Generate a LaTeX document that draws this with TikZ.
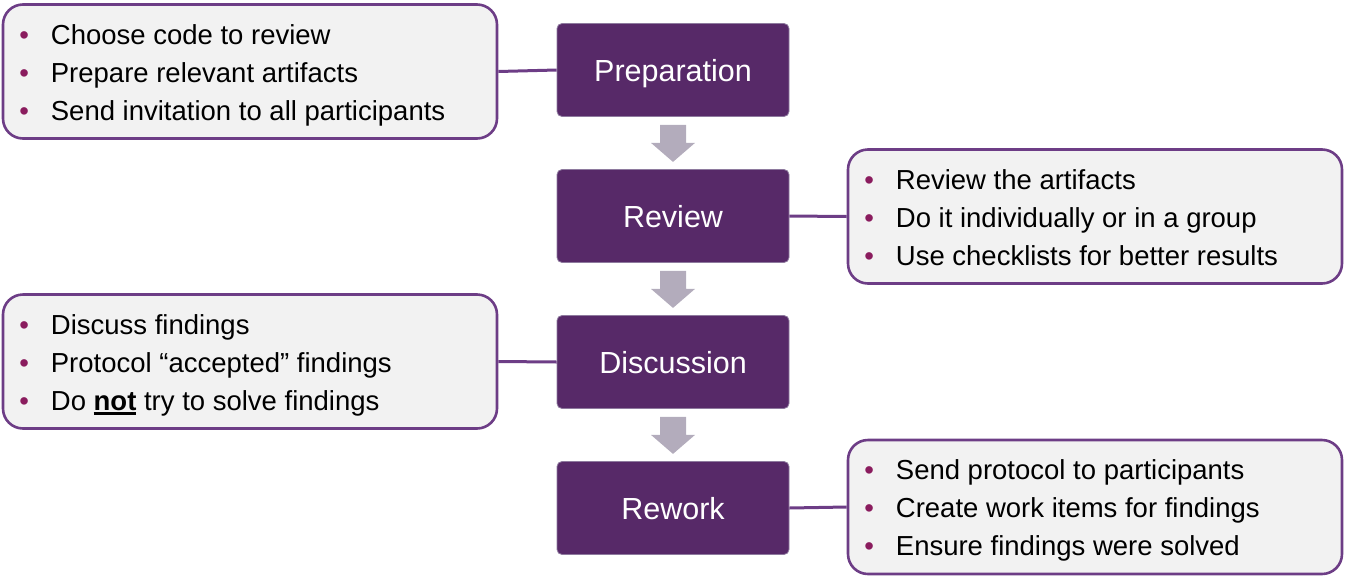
\documentclass[tikz,border=0pt]{standalone}
\usepackage{fontspec}
\setmainfont{Liberation Sans}
\usetikzlibrary{calc}
\definecolor{stepfill}{HTML}{572968}
\definecolor{stepline}{HTML}{8E7A9E}
\definecolor{callline}{HTML}{6D3D86}
\definecolor{callfill}{HTML}{F2F2F2}
\definecolor{bul}{HTML}{8A1C5E}
\definecolor{arrgray}{HTML}{B3ACBC}
\newcommand\itm[1]{\strut\makebox[31.5pt][l]{\textcolor{bul}{•}}#1}
\newcommand\ulnot[1]{\setbox0\hbox{#1}\rlap{\rule[-4.5pt]{\wd0}{2.4pt}}\box0\relax}
\newcommand\blockarr[1]{\fill[arrgray] ([yshift=-8pt]#1.south) ++(-13,0) -- ++(26,0) -- ++(0,18) -- ++(9,0) -- ++(-22,19) -- ++(-22,-19) -- ++(9,0) -- cycle;}
\begin{document}
\begin{tikzpicture}[x=1pt,y=-1pt,
  stepbox/.style={draw=stepline, line width=0.8pt, fill=stepfill, rounded corners=5pt,
    minimum width=232pt, minimum height=93pt, inner sep=0pt, text=white,
    text height=22pt, text depth=0pt,
    font=\fontsize{30.5}{36}\selectfont},
  callout/.style={draw=callline, line width=2.6pt, fill=callfill, rounded corners=20pt,
    minimum width=494pt, minimum height=134pt, inner sep=0pt},
  list/.style={anchor=west, inner sep=0pt, align=left, text=black,
    font=\fontsize{27.5}{38}\selectfont},
  link/.style={draw=callline, line width=3pt}
]
\useasboundingbox (0,0) rectangle (1347,579);
% steps
\node[stepbox] (prep) at (673,70) {Preparation};
\node[stepbox] (rev) at (673,216) {Review};
\node[stepbox] (disc) at (673,362) {Discussion};
\node[stepbox] (rew) at (673,508) {Rework};
% arrows
\blockarr{prep}
\blockarr{rev}
\blockarr{disc}
% callouts
\node[callout] (c1) at (250,71.5) {};
\node[list] (t1) at ([xshift=17.5pt,yshift=-3pt]c1.west) {\itm{Choose code to review}\\ \itm{Prepare relevant artifacts}\\ \itm{Send invitation to all participants}};
\node[callout] (c2) at (1095,216.5) {};
\node[list] (t2) at ([xshift=17.5pt,yshift=-3pt]c2.west) {\itm{Review the artifacts}\\ \itm{Do it individually or in a group}\\ \itm{Use checklists for better results}};
\node[callout] (c3) at (250,361.5) {};
\node[list] (t3) at ([xshift=17.5pt,yshift=-3pt]c3.west) {\itm{Discuss findings}\\ \itm{Protocol “accepted” findings}\\ \itm{Do \ulnot{\bfseries not} try to solve findings}};
\node[callout] (c4) at (1095,507) {};
\node[list] (t4) at ([xshift=17.5pt,yshift=-3pt]c4.west) {\itm{Send protocol to participants}\\ \itm{Create work items for findings}\\ \itm{Ensure findings were solved}};
% links
\draw[link] (c1.east) -- (prep.west);
\draw[link] (rev.east) -- (c2.west);
\draw[link] (c3.east) -- (disc.west);
\draw[link] (rew.east) -- (c4.west);
\end{tikzpicture}
\end{document}
